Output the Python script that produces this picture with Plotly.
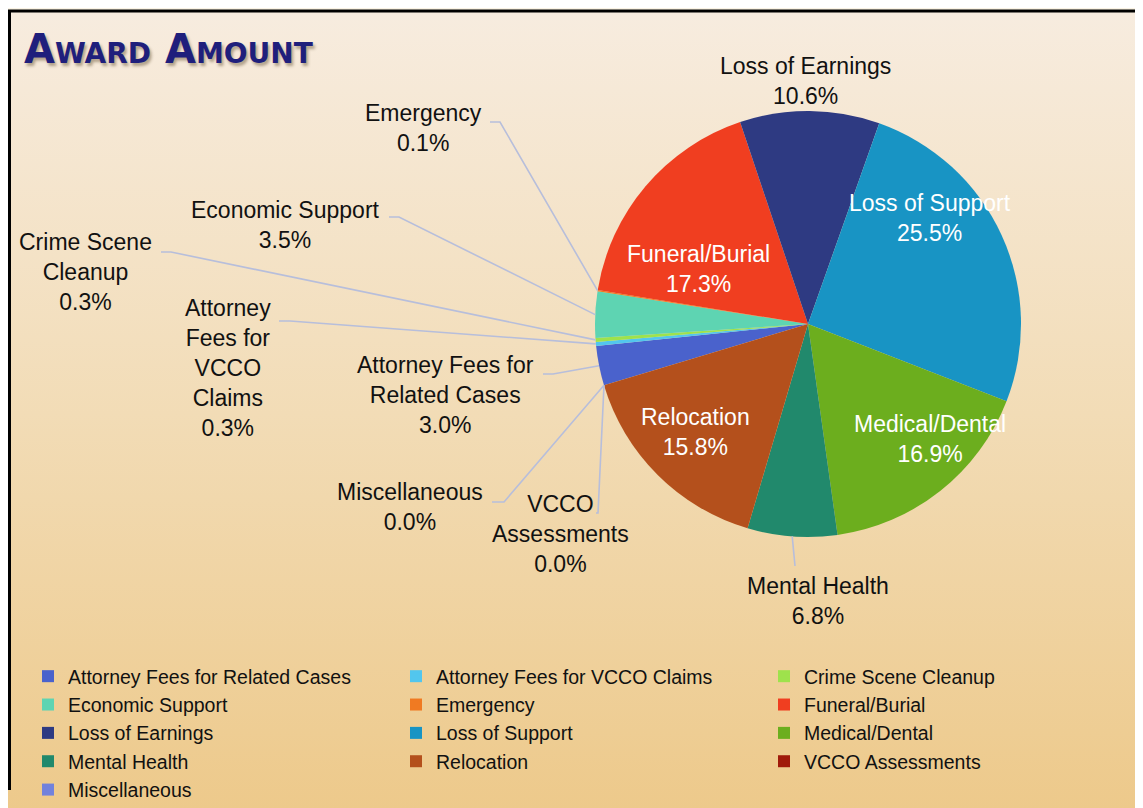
import math
import plotly.graph_objects as go

W, H = 1143, 808
OFF = 8  # page margin around the plot div

# data
categories = [
    "Attorney Fees for Related Cases", "Attorney Fees for VCCO Claims",
    "Crime Scene Cleanup", "Economic Support", "Emergency", "Funeral/Burial",
    "Loss of Earnings", "Loss of Support", "Medical/Dental", "Mental Health",
    "Relocation", "VCCO Assessments", "Miscellaneous",
]
percent = [3.0, 0.3, 0.3, 3.5, 0.1, 17.3, 10.6, 25.5, 16.9, 6.8, 15.8, 0.0, 0.0]
slice_colors = [
    "#4a62cc", "#52c6ee", "#9ee24c", "#5ed4b2", "#f07a22", "#f03e20",
    "#2e3a82", "#1894c4", "#6cae1e", "#21896c", "#b4501c", "#a01a0a", "#7282dc",
]

# label layout (screen pixel centres, wrapped text, leader stubs)
label_text = {
    "Attorney Fees for Related Cases": "Attorney Fees for<br>Related Cases",
    "Attorney Fees for VCCO Claims": "Attorney<br>Fees for<br>VCCO<br>Claims",
    "Crime Scene Cleanup": "Crime Scene<br>Cleanup",
    "VCCO Assessments": "VCCO<br>Assessments",
}
label_pos = {
    "Attorney Fees for Related Cases": (445, 395),
    "Attorney Fees for VCCO Claims": (228, 368),
    "Crime Scene Cleanup": (85, 272),
    "Economic Support": (285, 225),
    "Emergency": (423, 128),
    "Funeral/Burial": (698, 269),
    "Loss of Earnings": (805, 81),
    "Loss of Support": (930, 218),
    "Medical/Dental": (930, 439),
    "Mental Health": (818, 601),
    "Relocation": (695, 432),
    "VCCO Assessments": (560, 534),
    "Miscellaneous": (410, 507),
}
inside = {"Funeral/Burial", "Loss of Support", "Medical/Dental", "Relocation"}
leader_stub = {
    "Attorney Fees for Related Cases": [(543, 374), (553, 374)],
    "Attorney Fees for VCCO Claims": [(279, 321), (290, 321)],
    "Crime Scene Cleanup": [(161, 252), (171, 252)],
    "Economic Support": [(389, 217), (399, 217)],
    "Emergency": [(490, 122), (500, 122)],
    "Mental Health": [(795, 566)],
    "VCCO Assessments": [(596, 513), (598, 513)],
    "Miscellaneous": [(492, 502), (504, 502)],
}

CX, CY, R = 808, 324, 213
ROTATION = 253.3
FONT = "Liberation Sans, Arial, sans-serif"

fig = go.Figure()

# background panel with vertical gradient (pixel axes, y reversed)
fig.add_trace(go.Scatter(
    x=[8, W + OFF, W + OFF, 8, 8], y=[12, 12, H + OFF, H + OFF, 12],
    mode="lines", line=dict(width=0), fill="toself",
    fillgradient=dict(type="vertical",
                      colorscale=[[0, "#edc98a"], [0.5, "#f2dcb6"], [1, "#f7ecdf"]]),
    hoverinfo="skip", showlegend=False,
))

fig.add_trace(go.Pie(
    labels=categories,
    values=percent,
    sort=False,
    direction="clockwise",
    rotation=ROTATION,
    marker=dict(colors=slice_colors, line=dict(width=0)),
    textinfo="none",
    hoverinfo="label+value",
    domain=dict(x=[(CX - R - OFF) / W, (CX + R - OFF) / W],
                y=[1 - (CY + R - OFF) / H, 1 - (CY - R - OFF) / H]),
))

# labels and leader lines
total = sum(percent)
acc = 0.0
for name, v in zip(categories, percent):
    ang = math.radians(ROTATION + (acc + v / 2) / total * 360)
    acc += v
    ex, ey = CX + R * math.sin(ang), CY - R * math.cos(ang)
    lx, ly = label_pos[name]
    txt = label_text.get(name, name) + f"<br>{v:.1f}%"
    fig.add_annotation(
        x=lx, y=ly, xref="x", yref="y", text=txt, showarrow=False,
        xanchor="center", yanchor="middle", align="center",
        font=dict(family=FONT, size=23, color="white" if name in inside else "#111111"),
    )
    if name in leader_stub:
        pts = leader_stub[name] + [(ex, ey)]
        path = "M " + " L ".join(f"{px:.1f},{py:.1f}" for px, py in pts)
        fig.add_shape(type="path", path=path, xref="x", yref="y",
                      line=dict(color="#b7bedb", width=1.6), layer="above")

# title
fig.add_annotation(
    x=22, y=49, xref="x", yref="y", text="<b>Award Amount</b>", showarrow=False,
    xanchor="left", yanchor="middle",
    font=dict(family="DejaVu Sans, sans-serif", size=40, color="#1f1f7c",
              variant="small-caps", shadow="2px 3px 3px rgba(90,70,40,0.45)"),
)

# frame lines
fig.add_shape(type="line", x0=8, x1=W + OFF, y0=11, y1=11, xref="x", yref="y",
              line=dict(color="black", width=3), layer="above")
fig.add_shape(type="line", x0=9.5, x1=9.5, y0=10, y1=790, xref="x", yref="y",
              line=dict(color="black", width=3), layer="above")

fig.update_layout(
    width=W, height=H,
    margin=dict(l=0, r=0, t=0, b=0),
    paper_bgcolor="#fbf4e5",
    plot_bgcolor="rgba(0,0,0,0)",
    xaxis=dict(range=[OFF, W + OFF], visible=False, fixedrange=True),
    yaxis=dict(range=[H + OFF, OFF], visible=False, fixedrange=True),
    showlegend=True,
    legend=dict(
        orientation="h", x=20 / W, y=1 - (657 - OFF) / H, xanchor="left", yanchor="top",
        entrywidth=323, entrywidthmode="pixels", itemwidth=30,
        bgcolor="rgba(0,0,0,0)", font=dict(family=FONT, size=19.5, color="#111111"),
        traceorder="normal",
    ),
)

fig.write_html("out.html")
